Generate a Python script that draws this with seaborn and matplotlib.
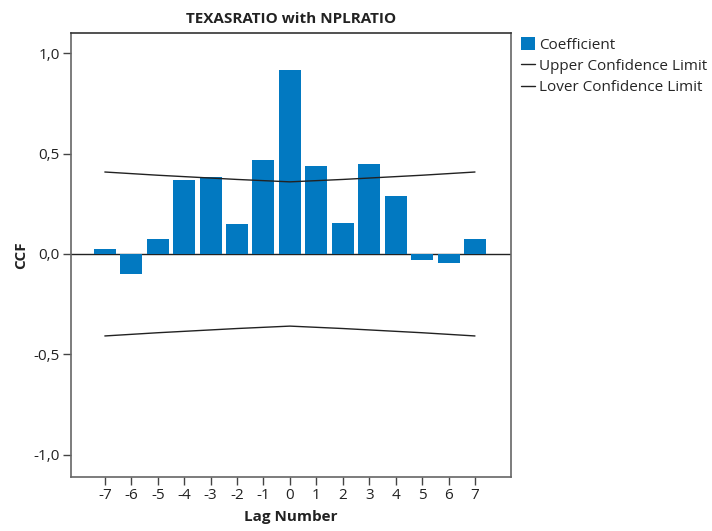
import matplotlib
matplotlib.use("Agg")
import matplotlib.pyplot as plt
import seaborn as sns
import pandas as pd
from matplotlib.lines import Line2D
from matplotlib.patches import Patch

lags = [-7, -6, -5, -4, -3, -2, -1, 0, 1, 2, 3, 4, 5, 6, 7]
coefficient = [0.025, -0.10, 0.073, 0.370, 0.385, 0.150, 0.470, 0.918,
               0.440, 0.155, 0.450, 0.290, -0.03, -0.045, 0.073]
upper_limit = [0.408, 0.400, 0.392, 0.385, 0.378, 0.371, 0.365, 0.359,
               0.365, 0.371, 0.378, 0.385, 0.392, 0.400, 0.408]
lower_limit = [-v for v in upper_limit]
ytick_vals = [-1.0, -0.5, 0.0, 0.5, 1.0]
ytick_labels = ["-1,0", "-0,5", "0,0", "0,5", "1,0"]

df = pd.DataFrame({"lag": lags, "coef": coefficient,
                   "upper": upper_limit, "lower": lower_limit})

sns.set_style("white")
plt.rcParams["font.family"] = ["Open Sans", "DejaVu Sans"]

fig = plt.figure(figsize=(7.12, 5.31), dpi=100)
ax = fig.add_axes([0.0997, 0.1017, 0.6179, 0.8362])

bar_color = "#0279C1"
sns.barplot(data=df, x="lag", y="coef", native_scale=True, color=bar_color,
            saturation=1, width=0.83, ax=ax, edgecolor="none", zorder=2)
sns.lineplot(data=df, x="lag", y="upper", color="#222222", lw=1, ax=ax, zorder=3)
sns.lineplot(data=df, x="lag", y="lower", color="#222222", lw=1, ax=ax, zorder=3)
ax.axhline(0, color="#222222", lw=1, zorder=1)

ax.set_xlim(-8.28, 8.36)
ax.set_ylim(-1.11, 1.10)
ax.set_xticks(lags)
ax.set_xticklabels([str(v) for v in lags], fontsize=11, color="#222222")
ax.set_yticks(ytick_vals)
ax.set_yticklabels(ytick_labels, fontsize=11, color="#222222")
ax.tick_params(axis="both", direction="out", length=6, width=1,
               color="#444444", left=True, bottom=True, pad=2)
for s in ax.spines.values():
    s.set_color("#666666")
    s.set_linewidth(1.2)
ax.spines["top"].set_color("#333333")

ax.set_xlabel("Lag Number", fontsize=11, fontweight="bold", color="#222222", labelpad=5)
ax.set_ylabel("CCF", fontsize=11, fontweight="bold", color="#222222", labelpad=4)
ax.set_title("TEXASRATIO with NPLRATIO", fontsize=11, fontweight="bold",
             color="#222222", pad=7)

handles = [Patch(facecolor=bar_color, edgecolor="none"),
           Line2D([0], [0], color="#222222", lw=1),
           Line2D([0], [0], color="#222222", lw=1)]
labels = ["Coefficient", "Upper Confidence Limit", "Lover Confidence Limit"]
fig.legend(handles, labels, loc="upper left", bbox_to_anchor=(0.7235, 0.942),
           frameon=False, fontsize=11, handlelength=0.9, handleheight=0.9,
           handletextpad=0.25, labelspacing=0.38, borderaxespad=0)

fig.savefig("out.png", dpi=100)
